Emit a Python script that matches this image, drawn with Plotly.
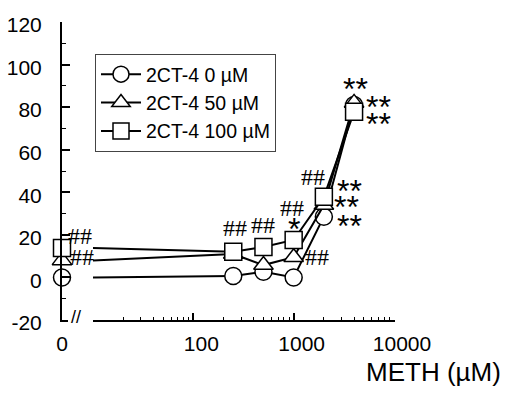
import math
import plotly.graph_objects as go

# ---------------- data ----------------
METH_CONC = [250, 500, 1000, 2000, 4000]          # µM (log part of axis)
SERIES_NAMES = ["2CT-4 0 µM", "2CT-4 50 µM", "2CT-4 100 µM"]
ZERO_VALUES = [0.0, 8.0, 13.8]                      # responses at METH = 0
CT0_VALUES = [0.7, 2.7, 0.0, 28.5, 81.0]
CT50_VALUES = [11.0, 5.8, 9.5, 34.0, 82.0]
CT100_VALUES = [12.1, 14.3, 17.6, 37.9, 77.8]
SERIES_VALUES = [CT0_VALUES, CT50_VALUES, CT100_VALUES]
SYMBOLS = ["circle", "triangle-up", "square"]

Y_TICKS = [-20, 0, 20, 40, 60, 80, 100, 120]
Y_TICK_TEXT = ["-20", "0", "20", "40", "60", "80", "100", "120"]
Y_MINOR = [-10, 10, 30, 50, 70, 90, 110]
X_TICKS = [100, 1000, 10000]
X_TICK_TEXT = ["100", "1000", "10000"]
X_MINOR = [m * d for d in (10, 100, 1000) for m in range(2, 10)]
XLOG_RANGE = [1, 4.01]

# annotations: (series index, point index (-1 = zero point), text, xshift, yshift)
MARKS = [
    (2, -1, "##", 18, 13),
    (1, -1, "##", 20, 4),
    (2, 0, "##", 2, 25),
    (2, 1, "##", 0, 23),
    (2, 2, "##", -2, 33),
    (2, 2, "*", 0, 15),
    (1, 2, "##", 23, 1),
    (2, 3, "##", -11, 21),
    (2, 3, "**", 26, 10),
    (1, 3, "**", 23, 2),
    (0, 3, "**", 26, -5),
    (1, 4, "**", 1, 18),
    (0, 4, "**", 24, 2),
    (2, 4, "**", 24, -8),
]

FONT = "Liberation Sans, Arial, sans-serif"
SERIF = "Liberation Serif, Times New Roman, serif"
W, H = 505, 396
ML, MR, MT, MB = 62, 110, 22, 76
PW = W - ML - MR
PH = H - MT - MB

fig = go.Figure()

# connector segments from the axis break to the first concentration
for vals, z in zip(SERIES_VALUES, ZERO_VALUES):
    fig.add_trace(go.Scatter(
        x=[10 ** XLOG_RANGE[0], METH_CONC[0]], y=[z, vals[0]],
        xaxis="x2", yaxis="y", mode="lines",
        line=dict(color="black", width=2), showlegend=False, hoverinfo="skip"))

for name, vals, z, sym in zip(SERIES_NAMES, SERIES_VALUES, ZERO_VALUES, SYMBOLS):
    marker = dict(symbol=sym, size=17, color="white",
                  line=dict(color="black", width=1.5))
    fig.add_trace(go.Scatter(
        x=METH_CONC, y=vals, xaxis="x2", yaxis="y", name=name,
        mode="lines+markers", line=dict(color="black", width=2), marker=marker))
    fig.add_trace(go.Scatter(
        x=[0], y=[z], xaxis="x", yaxis="y", mode="markers", marker=marker,
        showlegend=False, cliponaxis=False))

annotations = []
for si, pi, txt, dx, dy in MARKS:
    if pi < 0:
        ax, ay, xr = 0, ZERO_VALUES[si], "x"
    else:
        ax, ay, xr = math.log10(METH_CONC[pi]), SERIES_VALUES[si][pi], "x2"
    star = txt.startswith("*")
    annotations.append(dict(
        x=ax, y=ay, xref=xr, yref="y", text=txt, showarrow=False,
        xanchor="center", yanchor="middle", xshift=dx,
        yshift=dy - (4 if star else 1),
        font=dict(family=FONT if star else SERIF,
                  size=32 if star else 24, color="black")))

# axis break mark and axis title
annotations.append(dict(x=(76 - ML) / PW, y=0, xref="paper", yref="paper", text="//",
                        showarrow=False, xanchor="center", yanchor="middle", yshift=3,
                        font=dict(family=FONT, size=18, color="black")))
annotations.append(dict(x=1, y=0, xref="paper", yref="paper", text="METH (µM)",
                        showarrow=False, xanchor="right", yanchor="middle",
                        xshift=108, yshift=-52,
                        font=dict(family=FONT, size=26, color="black")))

fig.update_layout(
    width=W, height=H, autosize=False,
    margin=dict(l=ML, r=MR, t=MT, b=MB, pad=0),
    paper_bgcolor="white", plot_bgcolor="white",
    font=dict(family=FONT, color="black"),
    showlegend=True,
    legend=dict(x=(95 - ML) / PW, y=(320 - 54) / PH, xanchor="left", yanchor="top",
                bgcolor="white", bordercolor="#444", borderwidth=1,
                font=dict(family=FONT, size=19.5, color="black"), itemwidth=40,
                tracegroupgap=0),
    xaxis=dict(domain=[0, 6 / PW], range=[0, 1], anchor="y", automargin=False,
               tickvals=[0], ticktext=["0"], ticks="", showline=True,
               linecolor="black", linewidth=1.5, showgrid=False, zeroline=False,
               tickfont=dict(family=FONT, size=21, color="black"), ticklabelstandoff=4),
    xaxis2=dict(domain=[31 / PW, 1], type="log", range=XLOG_RANGE, anchor="y",
                automargin=False,
                tickvals=X_TICKS, ticktext=X_TICK_TEXT, ticks="inside", ticklen=7,
                tickwidth=1.5, tickcolor="black", showline=True, linecolor="black",
                linewidth=1.5, showgrid=False, zeroline=False,
                minor=dict(tickvals=X_MINOR, ticks="inside", ticklen=3,
                           tickwidth=1, tickcolor="black", showgrid=False),
                tickfont=dict(family=FONT, size=21, color="black"),
                ticklabelshift=8, ticklabelstandoff=4),
    yaxis=dict(domain=[0, 1], range=[-20, 120], anchor="x", automargin=False,
               tickvals=Y_TICKS, ticktext=Y_TICK_TEXT, ticks="inside", ticklen=8,
               tickwidth=1.5, tickcolor="black", showline=True, linecolor="black",
               linewidth=2, showgrid=False, zeroline=False,
               minor=dict(tickvals=Y_MINOR, ticks="inside", ticklen=4,
                          tickwidth=1, tickcolor="black", showgrid=False),
               tickfont=dict(family=FONT, size=21, color="black"),
               ticklabelstandoff=14, ticklabelshift=3),
    annotations=annotations,
)

fig.write_html("out.html",
               config={"displayModeBar": False},
               post_script="document.body.style.margin='0';"
                           "document.body.style.overflow='hidden';")
